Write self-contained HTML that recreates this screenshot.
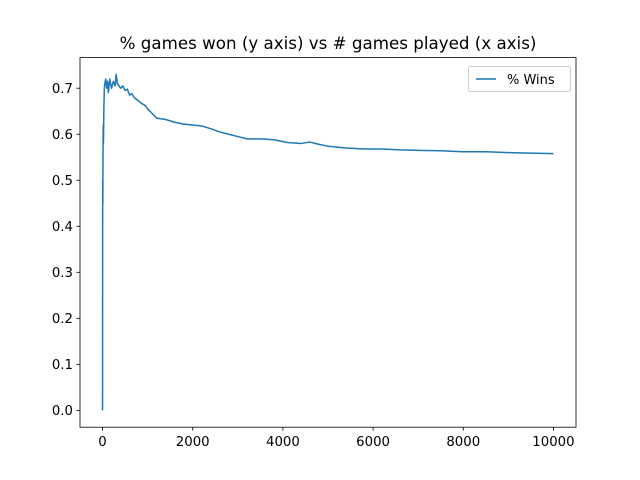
<!DOCTYPE html>
<html><head><meta charset="utf-8"><style>
body{margin:0;background:#fff}
svg{display:block;font-family:"DejaVu Sans","Liberation Sans",sans-serif}
</style></head><body>
<svg id="chart" width="640" height="480">
<rect width="640" height="480" fill="#fff"/>
<text x="328" y="49" font-size="16.7" text-anchor="middle">% games won (y axis) vs # games played (x axis)</text>
<g id="ticks"></g>
<path id="series" fill="none" stroke="#1f77b4" stroke-width="1.5" stroke-linejoin="round"/>
<rect x="80" y="57.6" width="496" height="369.6" fill="none" stroke="#000" stroke-width="0.8"/>
<g>
<rect x="468.5" y="66.5" width="102" height="25" rx="2" fill="#fff" fill-opacity="0.8" stroke="#ccc"/>
<line x1="476" y1="79" x2="496" y2="79" stroke="#1f77b4" stroke-width="1.5"/>
<text x="507" y="84" font-size="13">% Wins</text>
</g>
</svg>
<script>
const gamesPlayed=[0,2,4,6,10,15,20,30,40,50,70,90,110,130,160,200,240,280,300,330,400,450,500,550,600,650,700,750,800,850,900,950,1000,1100,1200,1400,1600,1800,2000,2200,2400,2600,2800,3000,3200,3500,3800,4100,4400,4600,4800,5000,5400,5800,6200,6600,7000,7500,8000,8500,9000,9500,10000];
const winPct=[0,0.38,0.50,0.45,0.55,0.62,0.58,0.66,0.70,0.71,0.72,0.70,0.715,0.69,0.72,0.70,0.715,0.705,0.73,0.71,0.70,0.705,0.695,0.698,0.685,0.688,0.68,0.676,0.672,0.668,0.665,0.662,0.655,0.645,0.635,0.632,0.626,0.622,0.62,0.618,0.612,0.605,0.6,0.595,0.59,0.59,0.588,0.582,0.58,0.583,0.578,0.574,0.57,0.568,0.568,0.566,0.565,0.564,0.562,0.562,0.56,0.559,0.558];
const xTicks=[0,2000,4000,6000,8000,10000];
const yTicks=[0,0.1,0.2,0.3,0.4,0.5,0.6,0.7];
const X=v=>80+(v+500)/11000*496;
const Y=v=>427.2-(v+0.0365)/0.803*369.6;
const NS="http://www.w3.org/2000/svg";
const g=document.getElementById('ticks');
function mk(t,a){const e=document.createElementNS(NS,t);for(const k in a)e.setAttribute(k,a[k]);g.appendChild(e);return e;}
xTicks.forEach(v=>{
 const l=mk('line',{x1:X(v),x2:X(v),y1:427.2,y2:430.7,stroke:'#000','stroke-width':0.8});
 
 
 const t=mk('text',{x:X(v),y:446,'font-size':13.3,'text-anchor':'middle'});t.textContent=v;
 
 
});
yTicks.forEach(v=>{
 const l=mk('line',{x1:76.5,x2:80,y1:Y(v),y2:Y(v),stroke:'#000','stroke-width':0.8});
 
 
 const t=mk('text',{x:73,y:Y(v)+4.8,'font-size':13.3,'text-anchor':'end'});t.textContent=v.toFixed(1);
 
 
});
document.getElementById('series').setAttribute('d',gamesPlayed.map((x,i)=>(i?'L':'M')+X(x).toFixed(2)+','+Y(winPct[i]).toFixed(2)).join(''));
</script>
</body></html>
